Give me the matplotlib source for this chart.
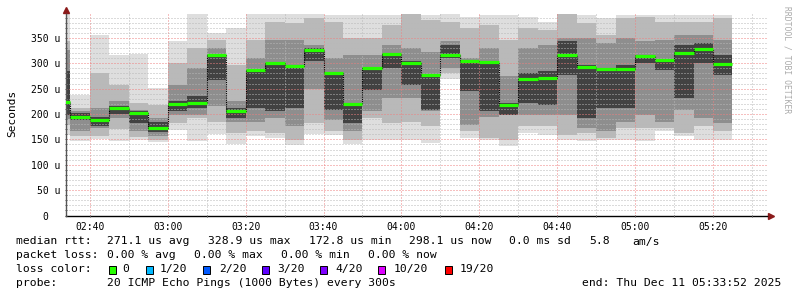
import matplotlib
matplotlib.use('Agg')
import matplotlib.pyplot as plt
import matplotlib.ticker as mticker
import numpy as np

W, H = 797, 297
MONO = 'DejaVu Sans Mono'

# each smokeping column covers the 5 minutes ending at this time
ends = ['02:35', '02:40', '02:45', '02:50', '02:55', '03:00', '03:05', '03:10',
        '03:15', '03:20', '03:25', '03:30', '03:35', '03:40', '03:45', '03:50',
        '03:55', '04:00', '04:05', '04:10', '04:15', '04:20', '04:25', '04:30',
        '04:35', '04:40', '04:45', '04:50', '04:55', '05:00', '05:05', '05:10',
        '05:15', '05:20', '05:25']

# rtt in microseconds
median = [223, 195, 188, 211, 201, 172, 219, 221, 316, 205, 286, 300, 294, 326, 281, 219, 290, 318,
          300, 277, 317, 304, 302, 217, 268, 271, 317, 293, 288, 288, 315, 306, 321, 328, 298]
outer_lo = [159, 147, 151, 147, 148, 145, 169, 146, 160, 141, 156, 153, 138, 160, 159, 141, 149, 149,
            149, 143, 268, 153, 149, 136, 162, 159, 149, 146, 149, 149, 146, 166, 156, 149, 149]
outer_hi = [397, 238, 355, 317, 319, 251, 343, 397, 359, 370, 397, 397, 397, 397, 395, 395, 395, 395,
            397, 395, 397, 392, 395, 395, 392, 382, 397, 395, 389, 395, 395, 395, 395, 395, 395]
b2_lo = [179, 156, 156, 171, 154, 148, 182, 192, 185, 162, 166, 162, 149, 182, 166, 149, 192, 182,
         185, 176, 281, 166, 152, 149, 176, 176, 159, 162, 152, 172, 172, 172, 162, 176, 166]
b2_hi = [343, 212, 281, 258, 221, 218, 300, 330, 345, 297, 346, 382, 379, 389, 382, 350, 350, 376,
         397, 386, 382, 369, 376, 346, 369, 366, 397, 379, 356, 389, 392, 382, 382, 382, 389]
b3_lo = [190, 166, 172, 192, 166, 156, 198, 198, 215, 185, 185, 192, 176, 250, 189, 166, 205, 231,
         231, 205, 290, 179, 195, 198, 198, 198, 198, 172, 166, 185, 198, 185, 208, 192, 182]
b3_hi = [327, 205, 212, 225, 208, 192, 258, 290, 330, 225, 310, 346, 346, 336, 310, 317, 317, 336,
         330, 323, 343, 310, 330, 274, 330, 336, 350, 350, 340, 350, 343, 346, 356, 356, 346]
core_lo = [198, 189, 176, 200, 182, 164, 205, 212, 267, 192, 212, 205, 212, 305, 208, 182, 248, 290,
           258, 208, 310, 245, 205, 198, 222, 218, 277, 192, 212, 212, 300, 287, 231, 300, 277]
core_hi = [284, 202, 195, 215, 205, 185, 225, 235, 318, 212, 287, 300, 294, 330, 281, 222, 290, 320,
           304, 277, 336, 304, 304, 222, 281, 284, 343, 297, 290, 297, 317, 304, 336, 340, 317]

xtick_labels = ['02:40', '03:00', '03:20', '03:40', '04:00', '04:20', '04:40', '05:00', '05:20']
ytick_vals = [0, 50, 100, 150, 200, 250, 300, 350]
ytick_labels = ['0  ', '50 u', '100 u', '150 u', '200 u', '250 u', '300 u', '350 u']

loss_labels = ['0', '1/20', '2/20', '3/20', '4/20', '10/20', '19/20']
loss_colors = ['#26ff00', '#00b8ff', '#0059ff', '#5e00ff', '#7e00ff', '#dd00ff', '#ff0000']

start_min = 5 * 60 + 33 + 52 / 60 - 180  # 3h window ending 05:33:52
end_min = start_min + 180


def to_min(s):
    h, m = s.split(':')
    return int(h) * 60 + int(m)


right_edge = np.array([to_min(t) for t in ends], dtype=float)
left_edge = right_edge - 5

fig = plt.figure(figsize=(W / 100, H / 100), dpi=100)
ax = fig.add_axes([66 / W, 1 - 215.5 / H, 701 / W, (215.5 - 14) / H])

# smoke bands, light outside to dark near the median
bands = [(outer_lo, outer_hi, '#dedede'),
         (b2_lo, b2_hi, '#b9b9b9'),
         (b3_lo, b3_hi, '#8e8e8e'),
         (core_lo, core_hi, '#424242')]
for lo, hi, col in bands:
    lo = np.array(lo, dtype=float)
    hi = np.array(hi, dtype=float)
    ax.bar(left_edge, hi - lo, bottom=lo, width=5, align='edge',
           color=col, linewidth=0, zorder=1)

# median: dotted step connectors plus green segments
med = np.array(median, dtype=float)
ax.step(np.append(left_edge, right_edge[-1]), np.append(med, med[-1]), where='post',
        color='black', lw=0.8, ls=(0, (1, 1)), zorder=3)
ax.hlines(med, left_edge, right_edge, colors=loss_colors[0], lw=2.3, zorder=4)

ax.set_xlim(start_min, end_min)
ax.set_ylim(0, 397)

ax.xaxis.set_major_locator(mticker.FixedLocator([to_min(t) for t in xtick_labels]))
ax.xaxis.set_major_formatter(mticker.FixedFormatter(xtick_labels))
ax.xaxis.set_minor_locator(mticker.MultipleLocator(10))
ax.yaxis.set_major_locator(mticker.FixedLocator(ytick_vals))
ax.yaxis.set_major_formatter(mticker.FixedFormatter(ytick_labels))
ax.yaxis.set_minor_locator(mticker.MultipleLocator(10))

ax.set_axisbelow(False)
ax.grid(which='minor', color='#b8b8b8', lw=0.72, ls=(0, (1, 2)))
ax.grid(which='major', color='#ee8080', lw=0.72, ls=(0, (1, 2)))

ax.tick_params(axis='both', which='both', length=2, width=0.7, color='#555555',
               labelsize=7.0, labelfontfamily=MONO, direction='inout')
ax.tick_params(axis='x', pad=4)
ax.tick_params(axis='y', pad=3)

for s in ['top', 'right']:
    ax.spines[s].set_visible(False)
ax.spines['left'].set_color('#555555')
ax.spines['bottom'].set_color('black')
ax.spines['left'].set_linewidth(1.0)
ax.spines['bottom'].set_linewidth(1.0)

# axis arrows
ax.plot([0], [1.02], marker='^', ms=4.5, color='#8b1a1a', transform=ax.transAxes, clip_on=False)
ax.plot([1.005], [0], marker='>', ms=4.5, color='#8b1a1a', transform=ax.transAxes, clip_on=False)

fig.text(12 / W, 1 - 113 / H, 'Seconds', rotation=90, ha='center', va='center',
         family=MONO, fontsize=8)
fig.text(787 / W, 1 - 60 / H, 'RRDTOOL / TOBI OETIKER', rotation=270, ha='center', va='center',
         family=MONO, fontsize=5.8, color='#aaaaaa')


def put(x, y, s, **kw):
    fig.text(x / W, 1 - y / H, s, ha='left', va='center', family=MONO, fontsize=8.2, **kw)


rows = [
    (241.5, [(16, 'median rtt:'), (107.3, '271.1 us avg'), (207.8, '328.9 us max'),
             (309.1, '172.8 us min'), (408.8, '298.1 us now'), (509.5, '0.0 ms sd'),
             (589.2, '5.8'), (632.1, 'am/s')]),
    (255.3, [(16, 'packet loss:'), (107.3, '0.00 % avg'), (193.8, '0.00 % max'),
             (281, '0.00 % min'), (367.9, '0.00 % now')]),
    (283.3, [(16, 'probe:'), (107.3, '20 ICMP Echo Pings (1000 Bytes) every 300s'),
             (582.5, 'end: Thu Dec 11 05:33:52 2025')]),
]
for y, items in rows:
    for x, s in items:
        put(x, y, s)

put(16, 269.3, 'loss color:')
box_x = [108.7, 145.6, 203.4, 261.6, 320.4, 378.1, 444.6]
lab_x = [122.5, 160.0, 218.7, 277.0, 335.7, 393.5, 459.9]
for bx, lx, lab, col in zip(box_x, lab_x, loss_labels, loss_colors):
    fig.patches.append(plt.Rectangle((bx / W, 1 - 273.5 / H), 7 / W, 7.5 / H,
                                     transform=fig.transFigure, facecolor=col,
                                     edgecolor='black', lw=0.7))
    put(lx, 269.3, lab)

fig.savefig('out.png', dpi=100)
